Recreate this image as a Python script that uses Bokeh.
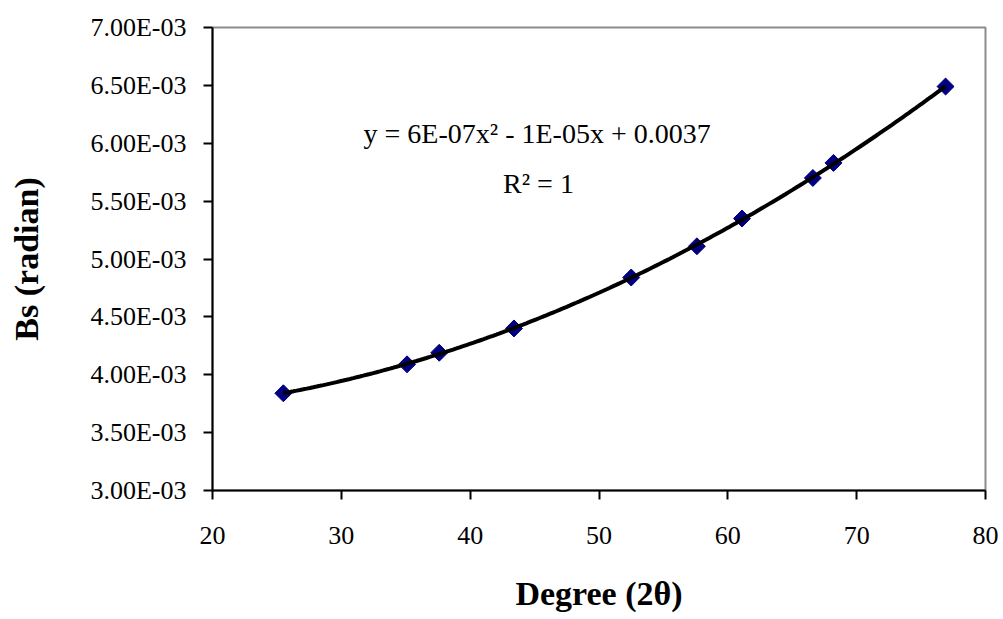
import numpy as np
from bokeh.plotting import figure
from bokeh.models import FixedTicker, CustomJSTickFormatter, Label, Range1d, ColumnDataSource
from bokeh.embed import file_html
from bokeh.resources import INLINE

# Data
degree = [25.5, 35.1, 37.6, 43.4, 52.5, 57.6, 61.1, 66.6, 68.2, 76.9]
bs_radian = [0.00384, 0.00409, 0.00419, 0.00440, 0.00484, 0.00511, 0.00535, 0.00570, 0.00583, 0.00649]
x_ticks = [20, 30, 40, 50, 60, 70, 80]
y_ticks = [0.0030, 0.0035, 0.0040, 0.0045, 0.0050, 0.0055, 0.0060, 0.0065, 0.0070]
equation_text = "y = 6E-07x\u00b2 - 1E-05x + 0.0037"
r2_text = "R\u00b2 = 1"

FONT = "Liberation Serif"

p = figure(width=1003, height=619, output_backend="svg", toolbar_location=None,
           x_range=Range1d(20, 80), y_range=Range1d(0.003, 0.007),
           min_border_left=212, min_border_right=18, min_border_top=27, min_border_bottom=129)

p.background_fill_color = "white"
p.border_fill_color = "white"
p.outline_line_color = "#8c8c8c"
p.outline_line_width = 2
p.xgrid.visible = False
p.ygrid.visible = False

# markers (trendline drawn on top of them, as in the reference)
src = ColumnDataSource(dict(x=degree, y=bs_radian))
p.scatter("x", "y", source=src, marker="square", angle=np.pi / 4, size=12,
          fill_color="#000080", line_color="#000080")

# polynomial trendline fitted to the data
coef = np.polyfit(degree, bs_radian, 2)
xs = np.linspace(min(degree), max(degree), 200)
p.line(xs, np.polyval(coef, xs), line_color="black", line_width=4)

# axes
for ax in (p.xaxis[0], p.yaxis[0]):
    ax.axis_line_color = "black"
    ax.axis_line_width = 2
    ax.major_tick_line_color = "black"
    ax.major_tick_line_width = 2
    ax.major_tick_in = 0
    ax.major_tick_out = 9
    ax.minor_tick_line_color = None
    ax.major_label_text_font = FONT
    ax.major_label_text_font_size = "26px"
    ax.major_label_text_color = "black"
    ax.axis_label_text_font = FONT
    ax.axis_label_text_font_style = "bold"
    ax.axis_label_text_font_size = "34px"
    ax.axis_label_text_color = "black"

p.xaxis.ticker = FixedTicker(ticks=x_ticks)
p.yaxis.ticker = FixedTicker(ticks=y_ticks)
p.yaxis.formatter = CustomJSTickFormatter(code="""
    if (tick == 0) { return "0.00E+00"; }
    let e = Math.floor(Math.log10(Math.abs(tick)) + 1e-9);
    let m = tick / Math.pow(10, e);
    let s = m.toFixed(2);
    let sign = e < 0 ? "-" : "+";
    let ae = Math.abs(e);
    let es = ae < 10 ? "0" + ae : "" + ae;
    return s + "E" + sign + es;
""")

p.xaxis.axis_label = "Degree (2\u03b8)"
p.yaxis.axis_label = "Bs (radian)"
p.xaxis.major_label_standoff = 27
p.yaxis.major_label_standoff = 17
p.xaxis.axis_label_standoff = 28
p.yaxis.axis_label_standoff = 42

# trendline equation (data coordinates)
p.add_layout(Label(x=45.2, y=0.00608, text=equation_text,
                   text_font=FONT, text_font_size="28px", text_align="center",
                   text_baseline="middle", text_color="black"))
p.add_layout(Label(x=45.3, y=0.00565, text=r2_text,
                   text_font=FONT, text_font_size="28px", text_align="center",
                   text_baseline="middle", text_color="black"))

open("out.html", "w").write(file_html(p, INLINE))
